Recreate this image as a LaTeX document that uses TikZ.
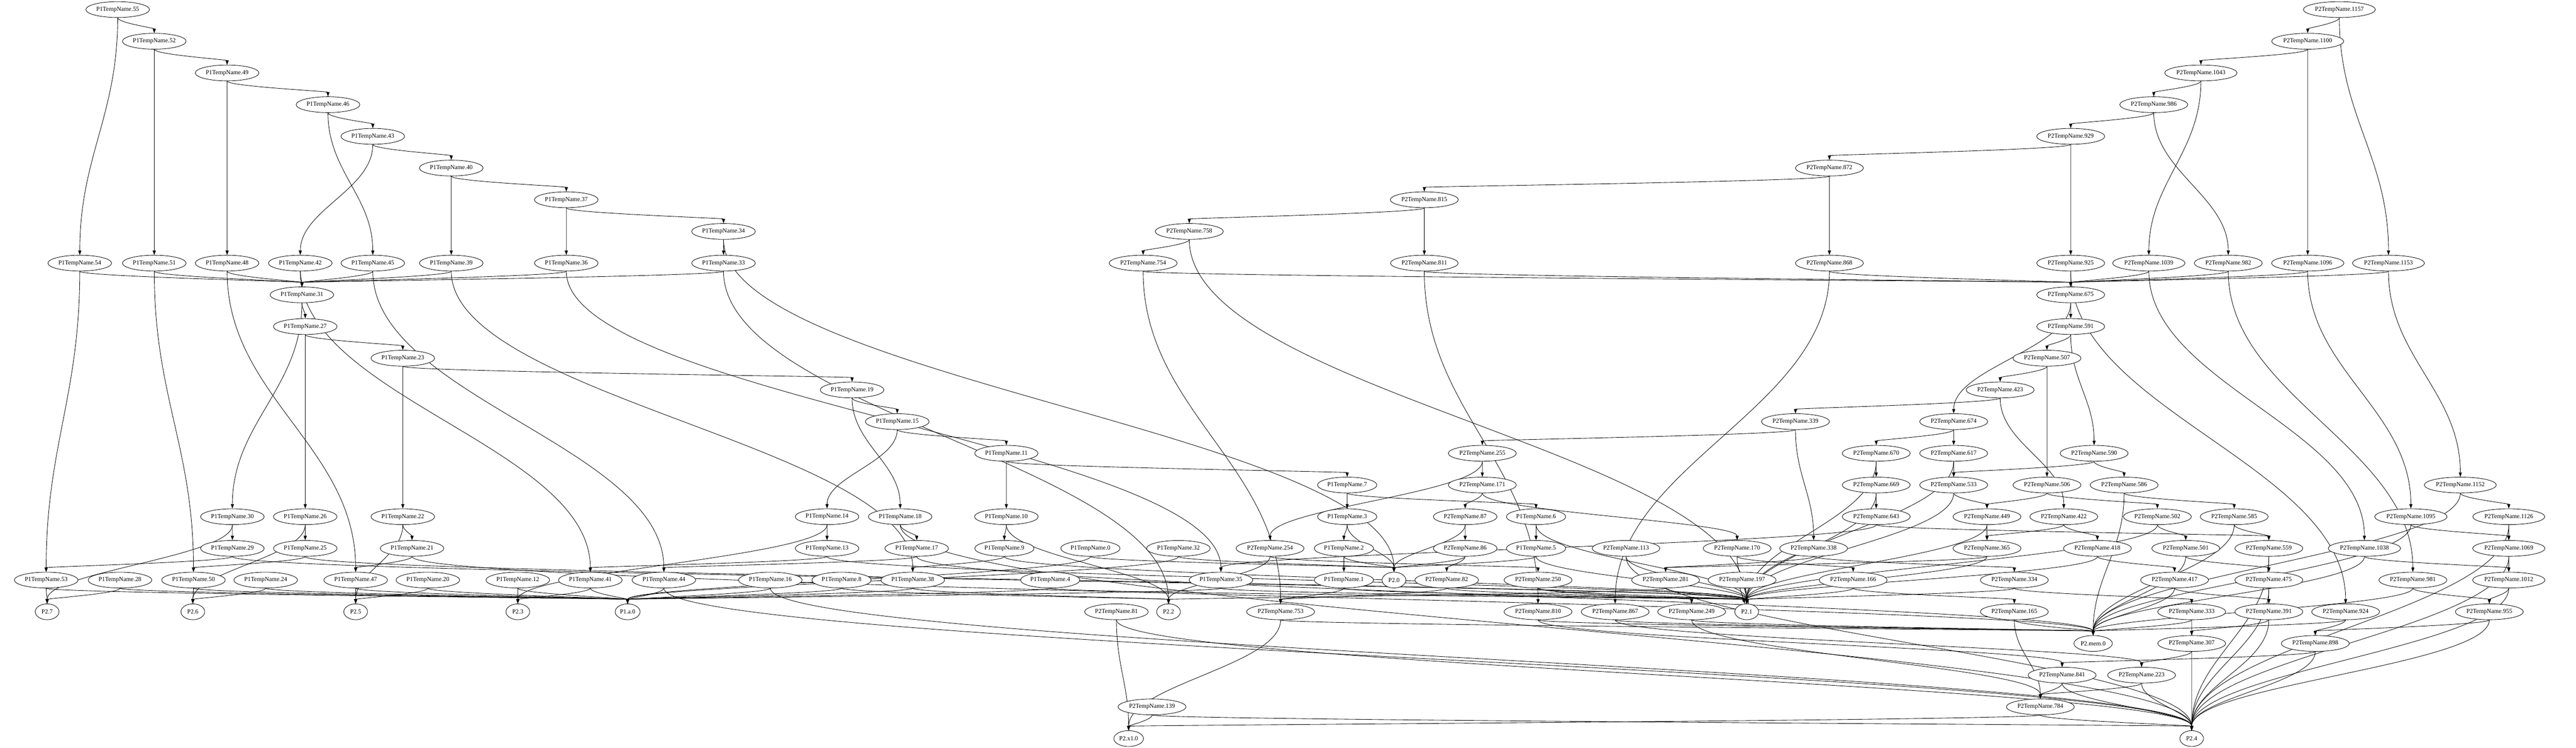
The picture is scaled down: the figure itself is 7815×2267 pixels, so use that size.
\documentclass[tikz,border=0pt]{standalone}
\usepackage{fontspec}
\setmainfont{Liberation Serif}
\usetikzlibrary{shapes.geometric,arrows.meta,calc}
\pgfdeclarelayer{bg}
\pgfdeclarelayer{paper}
\pgfsetlayers{paper,bg,main}
\newcommand\PoneN[3]{\node[n] (a#1) at (#2,{29+96.1*(#3)}) {P1TempName.#1};}
\newcommand\PtwoN[3]{\node[n] (b#1) at (#2,{29+96.1*(#3)}) {P2TempName.#1};}
\newcommand\OutN[4]{\node[n] (#1) at (#2,{29+96.1*(#3)}) {#4};}
\newcommand\edg[2]{\foreach \t in {#2}{\draw[e] (#1) to (\t);}}
\tikzset{
  n/.style={ellipse, draw, line width=1pt, fill=white, minimum width=54pt, minimum height=36pt,
    inner xsep=2.5pt, inner ysep=1pt, font=\fontsize{14}{16}\selectfont},
  e/.style={line width=1pt, -{Triangle[length=10pt,width=7pt]},
    to path={.. controls ($(\tikztostart)!0.42!(\tikztostart|-\tikztotarget)$) and ($(\tikztotarget)!0.42!(\tikztotarget|-\tikztostart)$) .. (\tikztotarget) \tikztonodes}}
}
\begin{document}
\begin{tikzpicture}[x=0.75pt,y=-0.75pt]
\begin{pgfonlayer}{paper}
\fill[white] (0,0) rectangle (7815,2267);
\end{pgfonlayer}
\useasboundingbox (0,0) rectangle (7815,2267);
% ---------- P1 nodes ----------
\PoneN{55}{357}{0}
\PoneN{52}{468}{1}
\PoneN{49}{689}{2}
\PoneN{46}{995}{3}
\PoneN{43}{1131}{4}
\PoneN{40}{1369}{5}
\PoneN{37}{1718}{6}
\PoneN{34}{2195}{7}
\PoneN{54}{242}{8}
\PoneN{51}{468}{8}
\PoneN{48}{689}{8}
\PoneN{42}{911}{8}
\PoneN{45}{1131}{8}
\PoneN{39}{1369}{8}
\PoneN{36}{1718}{8}
\PoneN{33}{2195}{8}
\PoneN{31}{916}{9}
\PoneN{27}{926}{10}
\PoneN{23}{1222}{11}
\PoneN{19}{2585}{12}
\PoneN{15}{2722}{13}
\PoneN{11}{3053}{14}
\PoneN{7}{4087}{15}
\PoneN{30}{705}{16}
\PoneN{26}{926}{16}
\PoneN{22}{1222}{16}
\PoneN{14}{2509}{16}
\PoneN{18}{2731}{16}
\PoneN{10}{3053}{16}
\PoneN{3}{4087}{16}
\PoneN{6}{4660}{16}
\PoneN{29}{705}{17}
\PoneN{25}{926}{17}
\PoneN{21}{1250}{17}
\PoneN{13}{2509}{17}
\PoneN{17}{2781}{17}
\PoneN{9}{3047}{17}
\PoneN{0}{3308}{17}
\PoneN{32}{3575}{17}
\PoneN{2}{4077}{17}
\PoneN{5}{4660}{17}
\PoneN{53}{140}{18}
\PoneN{28}{364}{18}
\PoneN{50}{587}{18}
\PoneN{24}{806}{18}
\PoneN{47}{1079}{18}
\PoneN{20}{1298}{18}
\PoneN{12}{1571}{18}
\PoneN{41}{1791}{18}
\PoneN{44}{2014}{18}
\PoneN{16}{2337}{18}
\PoneN{8}{2553}{18}
\PoneN{38}{2769}{18}
\PoneN{4}{3186}{18}
\PoneN{35}{3704}{18}
\PoneN{1}{4077}{18}
\OutN{o7}{143}{19}{P2.7}
\OutN{o6}{585}{19}{P2.6}
\OutN{o5}{1079}{19}{P2.5}
\OutN{o3}{1571}{19}{P2.3}
\OutN{oa}{1904}{19}{P1.a.0}
% ---------- P2 nodes ----------
\PtwoN{1157}{7097}{0}
\PtwoN{1100}{7001}{1}
\PtwoN{1043}{6677}{2}
\PtwoN{986}{6534}{3}
\PtwoN{929}{6282}{4}
\PtwoN{872}{5550}{5}
\PtwoN{815}{4321}{6}
\PtwoN{758}{3608}{7}
\PtwoN{754}{3468}{8}
\PtwoN{811}{4321}{8}
\PtwoN{868}{5550}{8}
\PtwoN{925}{6282}{8}
\PtwoN{1039}{6519}{8}
\PtwoN{982}{6760}{8}
\PtwoN{1096}{7001}{8}
\PtwoN{1153}{7246}{8}
\PtwoN{675}{6282}{9}
\PtwoN{591}{6282}{10}
\PtwoN{507}{6210}{11}
\PtwoN{423}{6068}{12}
\PtwoN{339}{5447}{13}
\PtwoN{674}{5927}{13}
\PtwoN{255}{4497}{14}
\PtwoN{670}{5692}{14}
\PtwoN{617}{5927}{14}
\PtwoN{590}{6353}{14}
\PtwoN{171}{4497}{15}
\PtwoN{669}{5692}{15}
\PtwoN{533}{5927}{15}
\PtwoN{506}{6210}{15}
\PtwoN{586}{6444}{15}
\PtwoN{1152}{7464}{15}
\PtwoN{87}{4445}{16}
\PtwoN{643}{5692}{16}
\PtwoN{449}{6028}{16}
\PtwoN{422}{6261}{16}
\PtwoN{502}{6545}{16}
\PtwoN{585}{6778}{16}
\PtwoN{1095}{7314}{16}
\PtwoN{1126}{7611}{16}
\PtwoN{254}{3853}{17}
\PtwoN{86}{4445}{17}
\PtwoN{113}{4933}{17}
\PtwoN{170}{5270}{17}
\PtwoN{338}{5502}{17}
\PtwoN{365}{6028}{17}
\PtwoN{418}{6363}{17}
\PtwoN{501}{6631}{17}
\PtwoN{559}{6883}{17}
\PtwoN{1038}{7173}{17}
\PtwoN{1069}{7611}{17}
\OutN{o0}{4229}{18}{P2.0}
\PtwoN{82}{4389}{18}
\PtwoN{250}{4666}{18}
\PtwoN{281}{5053}{18}
\PtwoN{197}{5285}{18}
\PtwoN{166}{5622}{18}
\PtwoN{334}{6111}{18}
\PtwoN{417}{6597}{18}
\PtwoN{475}{6883}{18}
\PtwoN{981}{7320}{18}
\PtwoN{1012}{7611}{18}
\PtwoN{81}{3387}{19}
\OutN{o2}{3545}{19}{P2.2}
\PtwoN{753}{3885}{19}
\PtwoN{810}{4666}{19}
\PtwoN{867}{4900}{19}
\PtwoN{249}{5132}{19}
\OutN{o1}{5299}{19}{P2.1}
\PtwoN{165}{6111}{19}
\PtwoN{333}{6649}{19}
\PtwoN{391}{6883}{19}
\PtwoN{924}{7116}{19}
\PtwoN{955}{7552}{19}
\OutN{omem}{6350}{20}{P2.mem.0}
\PtwoN{307}{6649}{20}
\PtwoN{898}{7024}{20}
\PtwoN{841}{6256}{21}
\PtwoN{223}{6497}{21}
\PtwoN{139}{3495}{22}
\PtwoN{784}{6190}{22}
\OutN{ox}{3424}{23}{P2.x1.0}
\OutN{o4}{6649}{23}{P2.4}
% ---------- edges ----------
\begin{pgfonlayer}{bg}
\edg{a55}{a52,a54}
\edg{a52}{a49,a51}
\edg{a49}{a46,a48}
\edg{a46}{a43,a45}
\edg{a43}{a40,a42}
\edg{a40}{a37,a39}
\edg{a37}{a34,a36}
\edg{a34}{a33,o0}
\edg{a54}{a31,a53}
\edg{a51}{a31,a50}
\edg{a48}{a31,a47}
\edg{a45}{a31,a44}
\edg{a42}{a31,a41}
\edg{a39}{a31,a38}
\edg{a36}{a31,a35}
\edg{a33}{a31,o2}
\edg{a31}{a27,a30}
\edg{a27}{a23,a26}
\edg{a23}{a19,a22}
\edg{a19}{a15,a18}
\edg{a15}{a11,a14}
\edg{a11}{a7,a10}
\edg{a7}{a3,a6}
\edg{a30}{a29,o7}
\edg{a26}{a25,o6}
\edg{a22}{a21,o5}
\edg{a18}{a17,o4}
\edg{a14}{a13,o3}
\edg{a10}{a9,o2}
\edg{a3}{a2,o0}
\edg{a6}{a5,o1}
\edg{a29}{a53,o1}
\edg{a25}{a50,o1}
\edg{a21}{a47,omem}
\edg{a17}{a44,omem}
\edg{a13}{a41,o1}
\edg{a9}{a38,o1}
\edg{a5}{o0,o1}
\edg{a2}{a1,o0}
\edg{a1}{b753,o1}
\edg{a53}{o7,oa}
\edg{a28}{o7,oa}
\edg{a50}{o6,oa}
\edg{a24}{o6,oa}
\edg{a47}{o5,oa}
\edg{a20}{o5,oa}
\edg{a12}{o3,oa}
\edg{a41}{o3,oa}
\edg{a44}{oa,o4}
\edg{a16}{oa,o4}
\edg{a8}{oa,o2}
\edg{a38}{oa,o2}
\edg{a4}{oa,o1}
\edg{a35}{oa,o1}
\edg{a0}{oa,o0}
\edg{a32}{oa,o0}
% P2
\edg{b1157}{b1100,b1153}
\edg{b1100}{b1043,b1096}
\edg{b1043}{b986,b1039}
\edg{b986}{b929,b982}
\edg{b929}{b872,b925}
\edg{b872}{b815,b868}
\edg{b815}{b758,b811}
\edg{b758}{b754,o1}
\edg{b754}{b675,b753}
\edg{b811}{b675,b810}
\edg{b868}{b675,b867}
\edg{b925}{b675,b924}
\edg{b1039}{b675,b1038}
\edg{b982}{b675,b981}
\edg{b1096}{b675,b1095}
\edg{b1153}{b675,b1152}
\edg{b675}{b591,b674}
\edg{b591}{b507,b590}
\edg{b507}{b423,b506}
\edg{b423}{b339,b422}
\edg{b339}{b255,b338}
\edg{b255}{b171,b254}
\edg{b171}{b87,b170}
\edg{b87}{b86,o0}
\edg{b674}{b617,b670}
\edg{b590}{b586,b533}
\edg{b506}{b502,b449}
\edg{b422}{b418,b365}
\edg{b338}{b334,b281}
\edg{b254}{b250,o2}
\edg{b170}{b166,o1}
\edg{b86}{b82,o0}
\edg{b617}{b533,o1}
\edg{b670}{b669,o1}
\edg{b533}{b449,o1}
\edg{b586}{b585,omem}
\edg{b669}{b643,o1}
\edg{b449}{b365,o1}
\edg{b502}{b501,o1}
\edg{b643}{a35,b559}
\edg{b585}{b559,omem}
\edg{b1152}{b1126,omem}
\edg{b1095}{b1069,omem}
\edg{b1126}{b1069,o4}
\edg{b365}{b281,o1}
\edg{b418}{b417,o1}
\edg{b501}{b475,omem}
\edg{b559}{b475,o4}
\edg{b1038}{b1012,omem}
\edg{b1069}{b1012,o4}
\edg{b334}{b333,o1}
\edg{b281}{o1,o2}
\edg{b166}{b165,o1}
\edg{b417}{b391,omem}
\edg{b475}{b391,o4}
\edg{b981}{b955,omem}
\edg{b1012}{b955,o4}
\edg{b82}{b753,o1}
\edg{b250}{b249,o1}
\edg{b113}{o1,o4}
\edg{b165}{omem,b784}
\edg{b333}{b307,omem}
\edg{b391}{b307,o4}
\edg{b924}{b898,omem}
\edg{b955}{b898,o4}
\edg{b307}{b223,o4}
\edg{b898}{b841,o4}
\edg{b841}{b784,o4}
\edg{b223}{b784,o4}
\edg{b784}{o4,ox}
\edg{b139}{ox,o4}
\edg{b81}{ox,o4}
\edg{b753}{ox,omem}
\edg{b810}{b841,omem}
\edg{b867}{b223,omem}
\edg{b249}{b784,omem}
\draw[e] ([xshift=-5pt]b197.south) -- ([xshift=-4pt]o1.north);
\draw[e] ([xshift=5pt]b197.south) -- ([xshift=4pt]o1.north);
\end{pgfonlayer}
\end{tikzpicture}
\end{document}
